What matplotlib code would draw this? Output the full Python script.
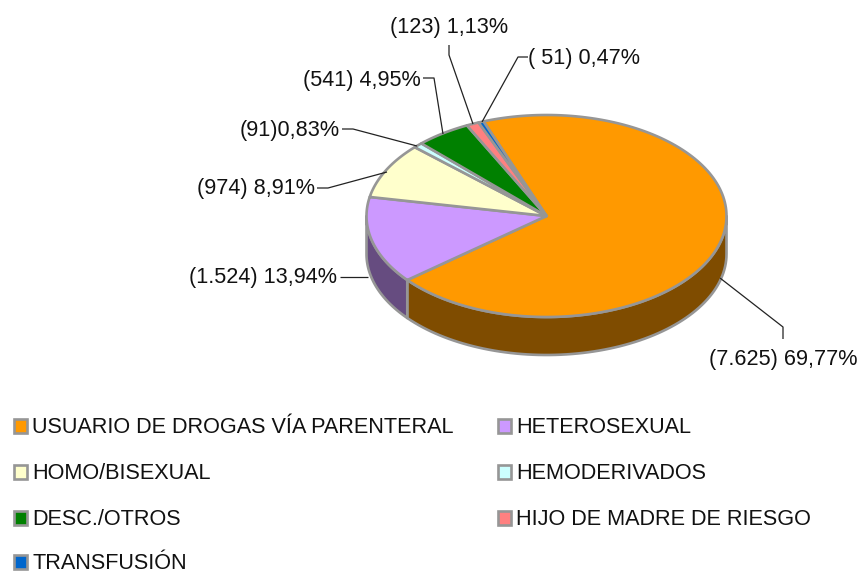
import numpy as np
import matplotlib
matplotlib.use('Agg')
import matplotlib.pyplot as plt
from matplotlib.patches import Rectangle

plt.rcParams['font.family'] = ['Liberation Sans', 'DejaVu Sans']

categorias = ['USUARIO DE DROGAS VÍA PARENTERAL', 'HETEROSEXUAL', 'HOMO/BISEXUAL',
              'HEMODERIVADOS', 'DESC./OTROS', 'HIJO DE MADRE DE RIESGO', 'TRANSFUSIÓN']
casos = [7625, 1524, 974, 91, 541, 123, 51]
etiquetas = ['(7.625) 69,77%', '(1.524) 13,94%', '(974) 8,91%', '(91)0,83%',
             '(541) 4,95%', '(123) 1,13%', '( 51) 0,47%']
colores = ['#FF9900', '#CC99FF', '#FFFFCC', '#CCFFFF', '#008000', '#FF8080', '#0066CC']
oscuros = ['#7F4C00', '#664C80', '#808066', '#668080', '#004000', '#804040', '#003366']

CX, CY, RX, RY, DEPTH = 546.5, 216, 180, 101, 38
START = -20.5
GRIS = '#969696'
LW = 1.9
FS = 15.6


def punto(ang):
    a = np.radians(ang)
    return CX + RX * np.sin(a), CY - RY * np.cos(a)


fig = plt.figure(figsize=(8.58, 5.72), dpi=100)
ax = fig.add_axes([0, 0, 1, 1])
ax.set_xlim(0, 858)
ax.set_ylim(572, 0)
ax.axis('off')

fracs = np.array(casos) / sum(casos) * 360
ini = START + np.concatenate([[0], np.cumsum(fracs)[:-1]])
fin = ini + fracs

# pared lateral (solo la mitad de delante)
for a0, a1, osc in zip(ini, fin, oscuros):
    lo, hi = max(a0, 90), min(a1, 270)
    if hi <= lo:
        continue
    xs, ys = punto(np.linspace(lo, hi, 80))
    ax.fill(np.r_[xs, xs[::-1]], np.r_[ys, ys[::-1] + DEPTH], facecolor=osc,
            edgecolor=GRIS, linewidth=LW, joinstyle='round')

# cara superior
for a0, a1, col in zip(ini, fin, colores):
    xs, ys = punto(np.linspace(a0, a1, 160))
    ax.fill(np.r_[CX, xs], np.r_[CY, ys], facecolor=col, edgecolor=GRIS,
            linewidth=LW, joinstyle='round')

# lineas guia
guias = [
    [(720, 278), (783, 327), (783, 339)],
    [(340, 277), (368, 277)],
    [(317, 188), (328, 188), (387, 172)],
    [(342, 129), (353, 129), (417, 146)],
    [(423, 78), (434, 78), (443, 134)],
    [(449, 45), (449, 55), (473, 124)],
    [(528, 57), (518, 57), (482, 122)],
]
for g in guias:
    ax.plot(*zip(*g), color='#222222', linewidth=0.9, solid_capstyle='butt')

pos_etq = [(783, 365), (263, 283), (256, 194), (289.5, 136), (361.5, 86), (449, 33), (584, 64)]
for (x, y), t in zip(pos_etq, etiquetas):
    ax.text(x, y, t, fontsize=FS, ha='center', va='baseline', color='#111111')

# leyenda
pos_ley = [(13.5, 433), (497.5, 433), (13.5, 479), (497.5, 479), (13.5, 525), (497.5, 525), (13.5, 569)]
for (x, y), c, col in zip(pos_ley, categorias, colores):
    ax.add_patch(Rectangle((x, y - 14), 13.5, 13.5, facecolor=col, edgecolor=GRIS, linewidth=LW))
    ax.text(x + 19, y, c, fontsize=FS, ha='left', va='baseline', color='#111111')

fig.savefig('out.png', dpi=100)
